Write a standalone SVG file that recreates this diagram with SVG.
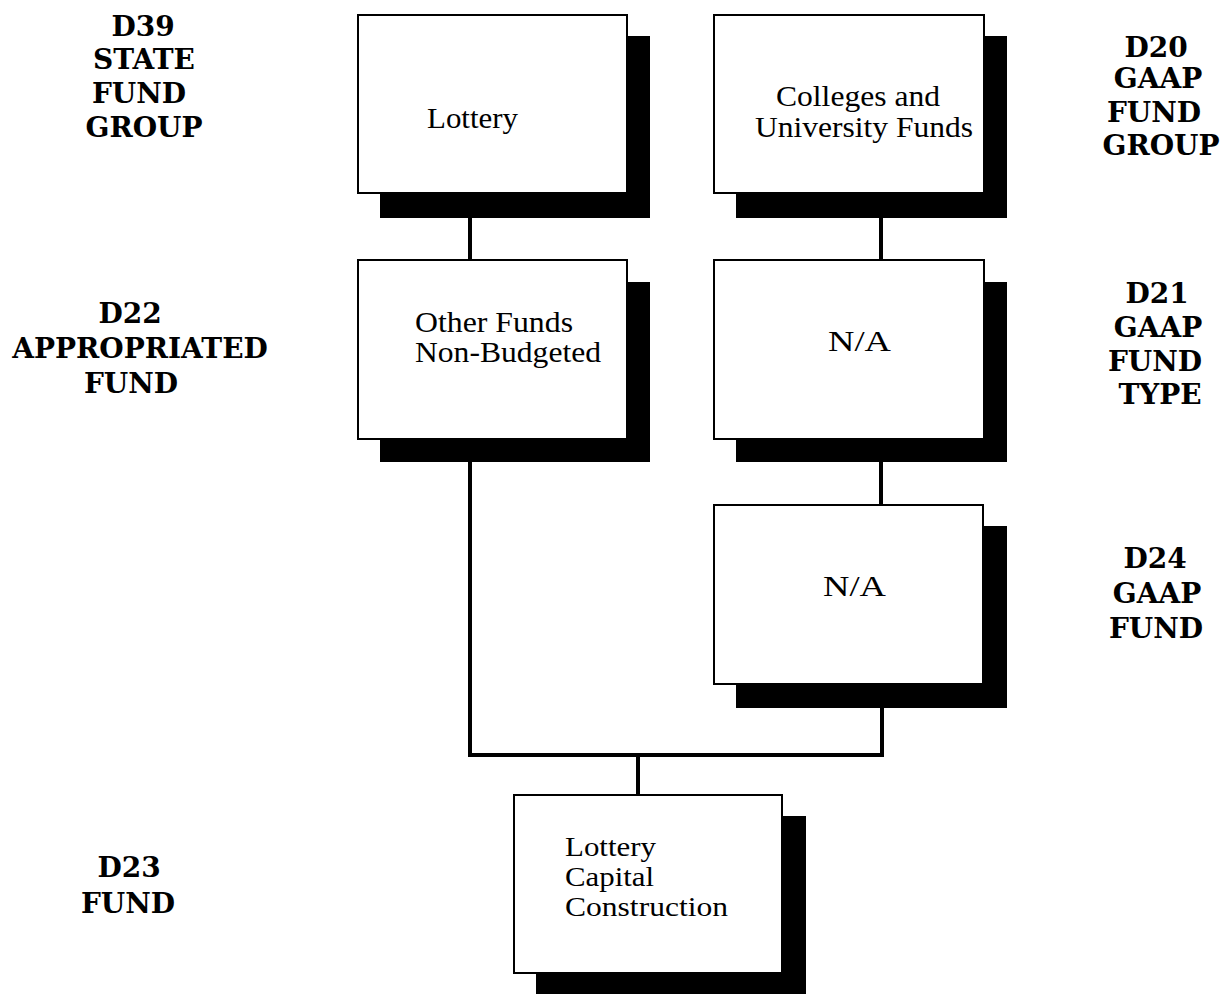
<svg xmlns="http://www.w3.org/2000/svg" width="1231" height="994" viewBox="0 0 1231 994">
  <style>
    .box { fill: #fff; stroke: #000; stroke-width: 2; }
    .shadow { fill: #000; }
    .wire { fill: none; stroke: #000; stroke-width: 4; }
    .txt { font-family: "Liberation Serif", "DejaVu Serif", serif; font-size: 30px; fill: #000; }
    .txt-sm { font-size: 27px; }
    .lvl { font-family: "DejaVu Serif", "Liberation Serif", serif; font-size: 28px; font-weight: bold; fill: #000; text-anchor: middle; }
  </style>
  <rect width="1231" height="994" fill="#fff"/>

  <!-- level captions -->
  <g id="level-d39">
    <text class="lvl" x="143" y="36">D39</text>
    <text class="lvl" x="144" y="69">STATE</text>
    <text class="lvl" x="139" y="103">FUND</text>
    <text class="lvl" x="144" y="137">GROUP</text>
  </g>
  <g id="level-d22">
    <text class="lvl" x="130" y="323">D22</text>
    <text class="lvl" x="140" y="358">APPROPRIATED</text>
    <text class="lvl" x="131" y="393">FUND</text>
  </g>
  <g id="level-d23">
    <text class="lvl" x="129" y="877">D23</text>
    <text class="lvl" x="128" y="913">FUND</text>
  </g>
  <g id="level-d20">
    <text class="lvl" x="1156" y="57">D20</text>
    <text class="lvl" x="1158" y="88">GAAP</text>
    <text class="lvl" x="1154" y="122">FUND</text>
    <text class="lvl" x="1161" y="155">GROUP</text>
  </g>
  <g id="level-d21">
    <text class="lvl" x="1157" y="303">D21</text>
    <text class="lvl" x="1158" y="337">GAAP</text>
    <text class="lvl" x="1155" y="371">FUND</text>
    <text class="lvl" x="1160" y="404">TYPE</text>
  </g>
  <g id="level-d24">
    <text class="lvl" x="1155" y="568">D24</text>
    <text class="lvl" x="1157" y="603">GAAP</text>
    <text class="lvl" x="1156" y="638">FUND</text>
  </g>

  <!-- connectors -->
  <g id="connectors">
    <line class="wire" x1="470" y1="216" x2="470" y2="261"/>
    <line class="wire" x1="881" y1="216" x2="881" y2="261"/>
    <line class="wire" x1="881" y1="460" x2="881" y2="505"/>
    <polyline class="wire" points="470,460 470,755 882,755 882,706"/>
    <line class="wire" x1="638" y1="755" x2="638" y2="795"/>
  </g>

  <!-- nodes -->
  <g id="node-lottery">
    <rect class="shadow" x="380" y="36" width="270" height="182"/>
    <rect class="box" x="358" y="15" width="269" height="178"/>
    <text class="txt" x="427" y="128" textLength="91" lengthAdjust="spacingAndGlyphs">Lottery</text>
  </g>
  <g id="node-colleges">
    <rect class="shadow" x="736" y="36" width="271" height="182"/>
    <rect class="box" x="714" y="15" width="270" height="178"/>
    <text class="txt" x="776" y="106" textLength="164" lengthAdjust="spacingAndGlyphs">Colleges and</text>
    <text class="txt" x="755" y="137" textLength="218" lengthAdjust="spacingAndGlyphs">University Funds</text>
  </g>
  <g id="node-other-funds">
    <rect class="shadow" x="380" y="282" width="270" height="180"/>
    <rect class="box" x="358" y="260" width="269" height="179"/>
    <text class="txt" x="415" y="332" textLength="158" lengthAdjust="spacingAndGlyphs">Other Funds</text>
    <text class="txt" x="415" y="362" textLength="186" lengthAdjust="spacingAndGlyphs">Non-Budgeted</text>
  </g>
  <g id="node-fund-type">
    <rect class="shadow" x="736" y="282" width="271" height="180"/>
    <rect class="box" x="714" y="260" width="270" height="179"/>
    <text class="txt" x="828" y="351" textLength="63" lengthAdjust="spacingAndGlyphs">N/A</text>
  </g>
  <g id="node-gaap-fund">
    <rect class="shadow" x="736" y="526" width="271" height="182"/>
    <rect class="box" x="714" y="505" width="269" height="179"/>
    <text class="txt" x="823" y="596" textLength="63" lengthAdjust="spacingAndGlyphs">N/A</text>
  </g>
  <g id="node-lottery-capital">
    <rect class="shadow" x="536" y="816" width="270" height="178"/>
    <rect class="box" x="514" y="795" width="268" height="178"/>
    <text class="txt txt-sm" x="565" y="856" textLength="91" lengthAdjust="spacingAndGlyphs">Lottery</text>
    <text class="txt txt-sm" x="565" y="886" textLength="89" lengthAdjust="spacingAndGlyphs">Capital</text>
    <text class="txt txt-sm" x="565" y="916" textLength="163" lengthAdjust="spacingAndGlyphs">Construction</text>
  </g>
</svg>
